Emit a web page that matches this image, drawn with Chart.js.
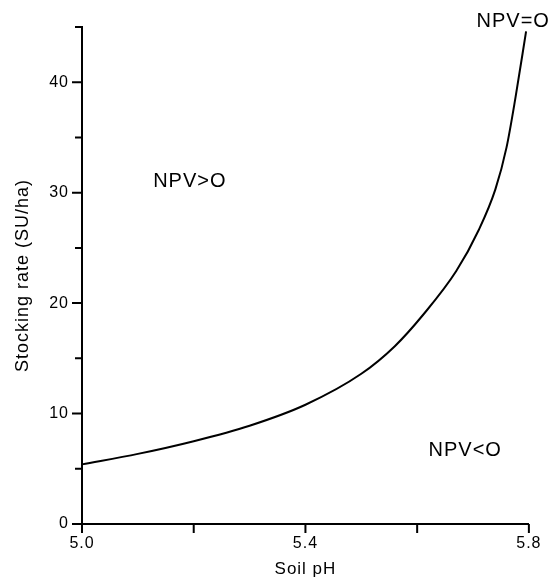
<!DOCTYPE html>
<html>
<head>
<meta charset="utf-8">
<script src="https://cdn.jsdelivr.net/npm/chart.js@4.4.1/dist/chart.umd.min.js"></script>
<style>
  html, body { margin: 0; padding: 0; background: #fff; }
  canvas { display: block; }
</style>
</head>
<body>
<canvas id="chart" width="550" height="580"></canvas>
<script>
// NPV = 0 boundary
const soilPh = [5.0, 5.1, 5.2, 5.3, 5.4, 5.5, 5.56, 5.61, 5.67, 5.71, 5.74, 5.76, 5.776, 5.795];
const stockingRate = [5.4, 6.35, 7.5, 8.9, 10.8, 13.6, 16.1, 18.9, 22.9, 26.6, 30.3, 34.1, 38.6, 44.6];

// Axis ticks
const xTicks = [5.0, 5.2, 5.4, 5.6, 5.8];
const xLabels = ['5.0', '5.4', '5.8'];
const yTicks = [0, 5, 10, 15, 20, 25, 30, 35, 40, 45];
const yLabels = [0, 10, 20, 30, 40];

const FONT = '"Liberation Sans", Arial, Helvetica, sans-serif';

// Tick marks (major / minor) and the region labels
const extras = {
  id: 'extras',
  beforeDraw(chart) {
    chart.ctx.letterSpacing = '1px';
  },
  afterDraw(chart) {
    const { ctx, scales: { x, y } } = chart;
    ctx.save();
    ctx.strokeStyle = '#000';
    ctx.lineWidth = 2;
    ctx.beginPath();
    xTicks.forEach(v => {
      const px = x.getPixelForValue(v);
      ctx.moveTo(px, y.bottom);
      ctx.lineTo(px, y.bottom + 9);
    });
    yTicks.forEach(v => {
      const py = y.getPixelForValue(v);
      const len = v % 10 === 0 ? 10 : 7;
      ctx.moveTo(x.left, py);
      ctx.lineTo(x.left - len, py);
    });
    ctx.stroke();

    // region labels, placed in data coordinates
    const notes = [
      { text: 'NPV>O', x: 5.193, y: 31.0 },
      { text: 'NPV<O', x: 5.686, y: 6.65 },
      { text: 'NPV=O', x: 5.772, y: 45.5 }
    ];
    ctx.fillStyle = '#000';
    ctx.font = '20px ' + FONT;
    ctx.letterSpacing = '1px';
    ctx.textAlign = 'center';
    ctx.textBaseline = 'middle';
    notes.forEach(n => {
      ctx.fillText(n.text, x.getPixelForValue(n.x), y.getPixelForValue(n.y));
    });
    ctx.restore();
  }
};

new Chart(document.getElementById('chart'), {
  type: 'line',
  data: {
    datasets: [{
      data: soilPh.map((v, i) => ({ x: v, y: stockingRate[i] })),
      borderColor: '#000',
      borderWidth: 2,
      pointRadius: 0,
      fill: false,
      cubicInterpolationMode: 'monotone',
      clip: false
    }]
  },
  options: {
    responsive: false,
    animation: false,
    layout: { padding: { top: 27, right: 18, left: 0, bottom: 0 } },
    plugins: { legend: { display: false }, tooltip: { enabled: false } },
    scales: {
      x: {
        type: 'linear',
        min: 5.0,
        max: 5.8,
        afterBuildTicks: s => { s.ticks = xTicks.map(v => ({ value: v })); },
        afterFit: s => { s.height = 56; },
        grid: { display: false, drawTicks: false },
        border: { display: true, color: '#000', width: 2 },
        ticks: {
          padding: 10,
          color: '#000',
          font: { family: FONT, size: 16 },
          maxRotation: 0,
          autoSkip: false,
          callback: v => {
            const s = v.toFixed(1);
            return xLabels.includes(s) ? s : '';
          }
        },
        title: {
          display: true,
          text: 'Soil pH',
          color: '#000',
          font: { family: FONT, size: 17 },
          padding: { top: 0, bottom: 0 }
        }
      },
      y: {
        type: 'linear',
        min: 0,
        max: 45,
        afterBuildTicks: s => { s.ticks = yTicks.map(v => ({ value: v })); },
        afterFit: s => { s.width = 82; },
        grid: { display: false, drawTicks: false },
        border: { display: true, color: '#000', width: 2 },
        ticks: {
          padding: 13,
          color: '#000',
          font: { family: FONT, size: 16 },
          autoSkip: false,
          callback: v => (yLabels.includes(v) ? String(v) : '')
        },
        title: {
          display: true,
          text: 'Stocking rate (SU/ha)',
          color: '#000',
          font: { family: FONT, size: 18 },
          padding: { top: 12, bottom: 0 }
        }
      }
    }
  },
  plugins: [extras]
});
</script>
</body>
</html>
